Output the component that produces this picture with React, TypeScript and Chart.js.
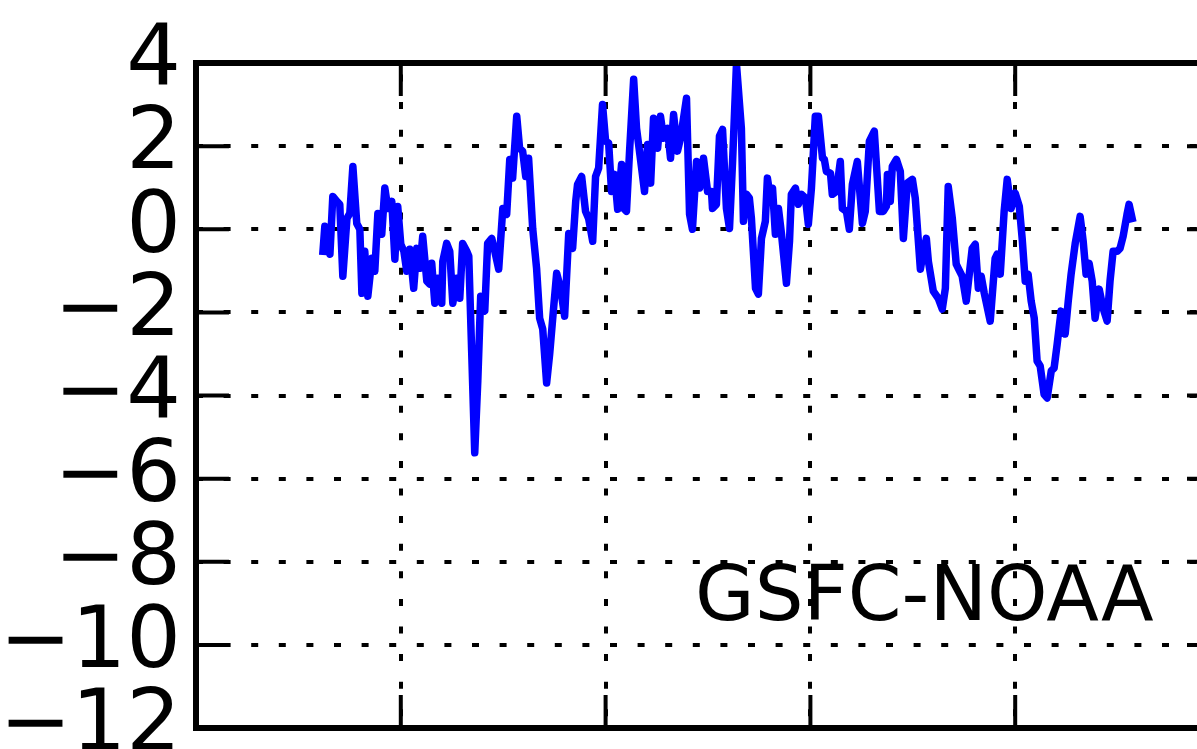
import React, { useEffect, useRef } from "react";
import { Chart, registerables } from "chart.js";

Chart.register(...registerables);

// x positions (axis units; gridlines at whole numbers) and anomaly values
const timeValues = [
  0.620,0.629,0.644,0.654,0.668,0.688,0.702,0.717,0.737,0.751,
  0.766,0.785,0.800,0.810,0.824,0.839,0.859,0.873,0.888,0.907,
  0.922,0.937,0.956,0.971,0.985,1.000,1.015,1.029,1.044,1.063,
  1.078,1.093,1.107,1.127,1.141,1.151,1.166,1.180,1.200,1.205,
  1.224,1.239,1.254,1.273,1.288,1.302,1.322,1.332,1.346,1.361,
  1.376,1.390,1.410,1.424,1.444,1.459,1.478,1.498,1.517,1.532,
  1.546,1.566,1.580,1.595,1.610,1.624,1.644,1.663,1.678,1.693,
  1.712,1.727,1.746,1.761,1.780,1.800,1.820,1.839,1.854,1.863,
  1.883,1.902,1.917,1.937,1.951,1.966,1.985,2.000,2.015,2.029,
  2.044,2.059,2.078,2.088,2.102,2.117,2.137,2.151,2.176,2.190,
  2.205,2.220,2.234,2.254,2.268,2.283,2.302,2.317,2.332,2.351,
  2.366,2.376,2.395,2.410,2.424,2.444,2.459,2.478,2.498,2.517,
  2.522,2.541,2.556,2.571,2.590,2.605,2.620,2.639,2.663,2.673,
  2.688,2.702,2.712,2.732,2.746,2.761,2.780,2.790,2.805,2.815,
  2.829,2.844,2.859,2.883,2.898,2.907,2.927,2.941,2.956,2.976,
  2.990,3.005,3.024,3.039,3.059,3.068,3.078,3.098,3.107,3.127,
  3.146,3.156,3.176,3.190,3.205,3.229,3.254,3.268,3.288,3.312,
  3.337,3.356,3.371,3.376,3.390,3.400,3.420,3.439,3.454,3.473,
  3.498,3.512,3.537,3.546,3.566,3.576,3.600,3.624,3.644,3.659,
  3.673,3.693,3.712,3.722,3.741,3.761,3.790,3.805,3.820,3.834,
  3.849,3.878,3.902,3.912,3.927,3.946,3.961,3.980,4.000,4.020,
  4.034,4.049,4.063,4.078,4.093,4.107,4.122,4.141,4.156,4.176,
  4.190,4.205,4.224,4.244,4.259,4.273,4.293,4.317,4.332,4.346,
  4.361,4.376,4.390,4.410,4.429,4.449,4.463,4.478,4.498,4.512,
  4.527,4.546,4.556,4.571,
];

const anomalyValues = [
  -0.53,0.07,0.00,-0.60,0.79,0.67,0.60,-1.13,0.26,0.38,
  1.51,0.14,0.00,-1.54,-0.53,-1.61,-0.70,-1.01,0.38,-0.12,
  0.99,0.50,0.67,-0.72,0.55,-0.36,-0.53,-1.01,-0.48,-1.42,
  -0.46,-0.94,-0.17,-1.25,-1.32,-0.82,-1.78,-1.18,-1.78,-0.77,
  -0.34,-0.53,-1.78,-1.18,-1.66,-0.34,-0.53,-0.65,-2.93,-5.38,
  -3.65,-1.61,-1.97,-0.34,-0.22,-0.53,-0.96,0.50,0.36,1.68,
  1.23,2.72,1.95,1.88,1.27,1.71,0.02,-0.94,-2.14,-2.40,
  -3.70,-3.00,-1.90,-1.06,-1.42,-2.09,-0.10,-0.46,0.67,1.08,
  1.27,0.43,0.26,-0.29,1.27,1.47,3.00,2.12,2.07,0.91,
  1.32,0.48,1.56,0.50,0.43,1.88,3.61,2.43,1.47,0.91,
  2.04,1.11,2.67,1.95,2.72,2.19,2.43,1.71,2.76,1.88,
  2.19,2.52,3.15,0.36,0.00,1.63,0.99,1.71,0.91,0.91,
  0.50,0.60,2.24,2.40,0.50,0.02,1.63,3.97,2.43,0.19,
  0.84,0.75,0.26,-1.42,-1.56,-0.22,0.19,1.23,0.75,0.99,
  -0.12,0.50,-0.12,-1.30,-0.29,0.84,0.99,0.60,0.84,0.75,
  0.12,0.99,2.72,2.72,1.71,1.68,1.39,1.35,0.84,0.91,
  1.63,0.50,0.43,0.00,1.08,1.63,0.14,0.43,2.12,2.36,
  0.43,0.43,0.55,1.32,0.67,1.51,1.68,1.39,-0.22,1.11,
  1.20,0.75,-0.96,-0.70,-0.22,-0.77,-1.49,-1.66,-1.92,-1.42,
  1.03,0.26,-0.84,-0.94,-1.13,-1.73,-0.46,-0.36,-1.42,-1.13,
  -1.54,-2.21,-0.70,-0.60,-1.08,0.43,1.20,0.50,0.87,0.55,
  -0.22,-1.25,-1.08,-1.73,-2.14,-3.17,-3.29,-3.97,-4.06,-3.41,
  -3.34,-2.76,-1.97,-2.52,-1.73,-1.08,-0.34,0.31,-0.29,-1.08,
  -0.82,-1.25,-2.14,-1.44,-1.90,-2.21,-1.25,-0.53,-0.53,-0.46,
  -0.17,0.36,0.60,0.26,
];

const yTickValues = [-12, -10, -8, -6, -4, -2, 0, 2, 4];
const xTickValues = [0, 1, 2, 3, 4, 5];
const annotationText = "GSFC-NOAA";

const FONT = '"DejaVu Sans", "Liberation Sans", sans-serif';

const framePlugin = {
  id: "frame",
  afterDraw(chart: any) {
    const { ctx, chartArea } = chart;
    const { left, right, top, bottom } = chartArea;
    const xs = chart.scales.x;
    const ys = chart.scales.y;
    ctx.save();
    ctx.strokeStyle = "#000";
    ctx.lineCap = "butt";
    // inward tick marks
    ctx.lineWidth = 4;
    const tl = 33;
    ctx.beginPath();
    for (const t of ys.ticks) {
      const py = ys.getPixelForValue(t.value);
      ctx.moveTo(left, py);
      ctx.lineTo(left + tl, py);
      ctx.moveTo(right, py);
      ctx.lineTo(right - tl, py);
    }
    for (const t of xs.ticks) {
      const px = xs.getPixelForValue(t.value);
      ctx.moveTo(px, top);
      ctx.lineTo(px, top + tl);
      ctx.moveTo(px, bottom);
      ctx.lineTo(px, bottom - tl);
    }
    ctx.stroke();
    // spines
    ctx.lineWidth = 6;
    ctx.lineJoin = "miter";
    ctx.strokeRect(left, top, right - left, bottom - top);
    // annotation
    ctx.fillStyle = "#000";
    ctx.font = `77px ${FONT}`;
    ctx.textAlign = "left";
    ctx.textBaseline = "alphabetic";
    ctx.fillText(annotationText, left + 499, top + 557);
    ctx.restore();
  },
};

export default function App() {
  const ref = useRef<HTMLCanvasElement | null>(null);

  useEffect(() => {
    if (!ref.current) return;
    const chart = new Chart(ref.current, {
      type: "line",
      data: {
        datasets: [
          {
            data: timeValues.map((x, i) => ({ x, y: anomalyValues[i] })),
            borderColor: "#0000ff",
            borderWidth: 7.5,
            pointRadius: 0,
            tension: 0,
            fill: false,
            borderJoinStyle: "round",
            borderCapStyle: "square",
          },
        ],
      },
      options: {
        responsive: false,
        animation: false,
        devicePixelRatio: 1,
        layout: { padding: { top: 63, left: 0, right: 0, bottom: 0 } },
        plugins: {
          legend: { display: false },
          tooltip: { enabled: false },
          title: { display: false },
        },
        scales: {
          x: {
            type: "linear",
            min: 0,
            max: 5,
            afterBuildTicks: (scale: any) => {
              scale.ticks = xTickValues.map((v) => ({ value: v }));
            },
            afterFit: (scale: any) => {
              scale.height = 21;
              scale.paddingLeft = 0;
              scale.paddingRight = 0;
            },
            ticks: { display: false },
            grid: {
              display: true,
              color: "#000",
              lineWidth: 4,
              drawTicks: false,
            },
            border: { display: false, dash: [7, 20.6], dashOffset: 16.1 },
          },
          y: {
            type: "linear",
            min: -12,
            max: 4,
            afterBuildTicks: (scale: any) => {
              scale.ticks = yTickValues.map((v) => ({ value: v }));
            },
            afterFit: (scale: any) => {
              scale.width = 196;
              scale.paddingTop = 0;
              scale.paddingBottom = 0;
            },
            ticks: {
              autoSkip: false,
              padding: 15,
              color: "#000",
              font: { family: FONT, size: 86 },
              callback: (v: any) =>
                Number(v) < 0 ? "\u2212" + Math.abs(Number(v)) : String(v),
            },
            grid: {
              display: true,
              color: "#000",
              lineWidth: 4,
              drawTicks: false,
            },
            border: { display: false, dash: [7, 20.6], dashOffset: 0 },
          },
        },
      },
      plugins: [framePlugin],
    } as any);
    return () => chart.destroy();
  }, []);

  return (
    <div
      style={{
        position: "fixed",
        left: 0,
        top: 0,
        width: 1197,
        height: 749,
        overflow: "hidden",
        background: "#fff",
      }}
    >
      <canvas ref={ref} width={1220} height={749} style={{ display: "block" }} />
    </div>
  );
}
